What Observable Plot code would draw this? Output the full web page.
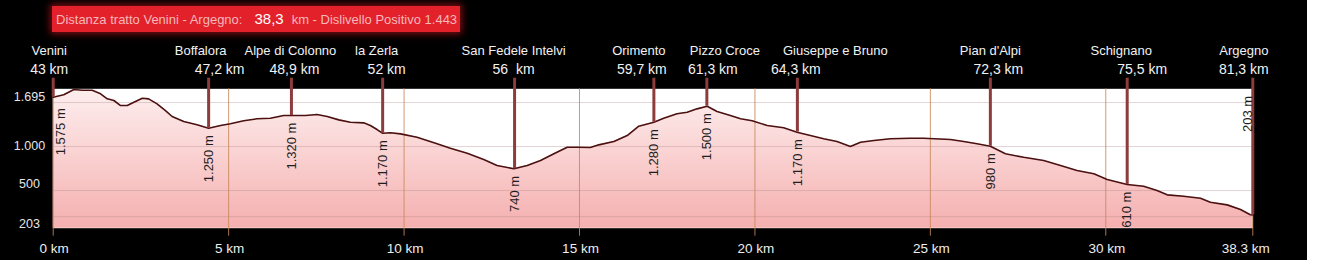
<!DOCTYPE html>
<html>
<head>
<meta charset="utf-8">
<script src="https://cdn.jsdelivr.net/npm/d3@7"></script>
<script src="https://cdn.jsdelivr.net/npm/@observablehq/plot@0.6"></script>
<style>
  html, body { margin: 0; padding: 0; background: #fff; }
  #wrap { position: relative; width: 1307px; height: 260px; background: #000; font-family: "Liberation Sans", Arial, sans-serif; overflow: hidden; }
  #chart { position: absolute; left: 0; top: 0; }
  #title { position: absolute; left: 52px; top: 6px; width: 408px; height: 26px; background: #e2212b;
           box-shadow: 0 0 7px 2px rgba(225, 25, 35, 0.55); color: #f5b8ba; font-size: 13px; line-height: 26px;
           white-space: nowrap; padding-left: 4px; box-sizing: border-box; }
  #title .big { color: #fff; font-size: 15px; margin: 0 8px 0 12px; }
</style>
</head>
<body>
<div id="wrap">
  <div id="chart"></div>
  <div id="title"><span>Distanza tratto Venini - Argegno:</span><span class="big">38,3</span><span>km - Dislivello Positivo 1.443</span></div>
</div>
<script>
// ---------- data ----------
const profileKm = [0, 0.30, 0.59, 0.83, 1.11, 1.35, 1.54, 1.73, 1.92, 2.11, 2.30, 2.54, 2.72, 2.96, 3.20, 3.39, 3.72, 4.10, 4.43,
  4.77, 5.05, 5.43, 5.81, 6.19, 6.57, 6.81, 7.19, 7.52, 7.81, 8.14, 8.47, 8.85, 9.04, 9.23, 9.39, 9.61, 9.90, 10.37, 10.94,
  11.32, 11.80, 12.27, 12.65, 13.13, 13.51, 13.89, 14.27, 14.65, 14.93, 15.31, 15.55, 15.98, 16.36, 16.69, 17.12, 17.40,
  17.78, 18.07, 18.35, 18.64, 18.92, 19.30, 19.59, 19.92, 20.35, 20.82, 21.20, 21.58, 21.96, 22.34, 22.72, 23.01, 23.39,
  23.86, 24.43, 24.81, 25.57, 25.95, 26.33, 26.71, 27.14, 27.66, 28.23, 28.71, 29.18, 29.66, 30.04, 30.61, 31.08, 31.46,
  31.75, 32.22, 32.70, 32.98, 33.46, 33.84, 34.12, 34.19];
const profileElev = [1560, 1588, 1648, 1640, 1640, 1599, 1542, 1523, 1466, 1466, 1503, 1549, 1542, 1485, 1409, 1341, 1284, 1247, 1208,
  1239, 1258, 1292, 1315, 1322, 1352, 1352, 1352, 1364, 1341, 1303, 1276, 1269, 1239, 1193, 1151, 1156, 1144, 1106, 1031,
  981, 924, 852, 784, 747, 784, 841, 917, 992, 992, 989, 1019, 1057, 1125, 1231, 1276, 1322,
  1372, 1390, 1428, 1458, 1398, 1352, 1315, 1292, 1239, 1213, 1163, 1125, 1088, 1057, 1000, 1049, 1068,
  1088, 1094, 1094, 1080, 1057, 1031, 1003, 917, 878, 841, 784, 727, 690, 625, 568, 549, 500,
  451, 435, 412, 367, 337, 284, 224, 222];

const stationNames = ["Venini", "Boffalora", "Alpe di Colonno", "la Zerla", "San Fedele Intelvi", "Orimento",
  "Pizzo Croce", "Giuseppe e Bruno", "Pian d'Alpi", "Schignano", "Argegno"];
const stationKmLabels = ["43 km", "47,2 km", "48,9 km", "52 km", "56  km", "59,7 km", "61,3 km", "64,3 km", "72,3 km", "75,5 km", "81,3 km"];
const stationElevLabels = ["1.575 m", "1.250 m", "1.320 m", "1.170 m", "740 m", "1.280 m", "1.500 m", "1.170 m", "980 m", "610 m", "203 m"];
const stationAt = [0, 4.43, 6.79, 9.39, 13.15, 17.12, 18.63, 21.21, 26.71, 30.61, 34.19];
const stationElev = [1560, 1208, 1352, 1151, 747, 1276, 1458, 1163, 1003, 568, 224];

const xTickAt = [0, 5, 10, 15, 20, 25, 30, 34.19];
const xTickLabels = ["0 km", "5 km", "10 km", "15 km", "20 km", "25 km", "30 km", "38.3 km"];
const yGridAt = [1500, 1000, 500, 203];
const yLabelAt = [1560, 1010, 570, 115];
const yTickLabels = ["1.695", "1.000", "500", "203"];

// ---------- layout / style ----------
const yMin = 72, yMax = 1656;
const nameNudge = [-4, -8, -1, -6, -1, -15, 18, 38, 0, -6, -9];
const kmNudge = [-4, 11, 3, 4, -1, -12, 6, -1.5, 8, 15, -9];
const FONT = "Liberation Sans, Arial, sans-serif";

const profile = profileKm.map((k, i) => ({km: k, elev: profileElev[i]}));
const stations = stationNames.map((n, i) => ({
  name: n, kmLabel: stationKmLabels[i], elevLabel: stationElevLabels[i], at: stationAt[i], elev: stationElev[i]
}));
const inner = stations.slice(1, -1);

function gradientDefs() {
  const ns = "http://www.w3.org/2000/svg";
  const defs = document.createElementNS(ns, "defs");
  const g = document.createElementNS(ns, "linearGradient");
  g.setAttribute("id", "pinkfade");
  g.setAttribute("x1", "0"); g.setAttribute("y1", "0");
  g.setAttribute("x2", "0"); g.setAttribute("y2", "1");
  [["0", "#fdeeee"], ["0.45", "#fad3d3"], ["1", "#f5afaf"]].forEach(([o, c]) => {
    const s = document.createElementNS(ns, "stop");
    s.setAttribute("offset", o); s.setAttribute("stop-color", c);
    g.appendChild(s);
  });
  defs.appendChild(g);
  return defs;
}

const txt = {fontFamily: FONT, lineAnchor: "middle"};

const marks = [
  Plot.frame({fill: "#fff", stroke: null}),
  gradientDefs,
  Plot.areaY(profile, {x: "km", y1: yMin, y2: "elev", fill: "url(#pinkfade)"}),
  Plot.ruleY(yGridAt, {stroke: "#b08888", strokeOpacity: 0.35}),
  Plot.ruleX(xTickAt, {stroke: "#c8875a", strokeOpacity: 0.85, insetBottom: -8}),
  Plot.line(profile, {x: "km", y: "elev", stroke: "#4b1010", strokeWidth: 1.6}),
  Plot.ruleX(stations, {x: "at", y1: yMax, y2: "elev", insetTop: -10.6, stroke: "#8e3b3b", strokeWidth: 3}),
  // elevation labels
  Plot.text(inner, {...txt, x: "at", y: "elev", text: "elevLabel", rotate: -90, textAnchor: "end", dy: 7,
    fontSize: 13, fill: "#1e1e1e"}),
  Plot.text([stations[0]], {...txt, x: "at", y: "elev", text: "elevLabel", rotate: -90, textAnchor: "end", dx: 8, dy: 11,
    fontSize: 13, fill: "#1e1e1e"}),
  Plot.text([stations[stations.length - 1]], {...txt, x: "at", y: yMax, text: "elevLabel", rotate: -90, textAnchor: "end", dx: -5, dy: 7,
    fontSize: 13, fill: "#1e1e1e"}),
  // header labels
  ...stations.map((s, i) => Plot.text([s], {...txt, x: "at", frameAnchor: "top", text: "name", dy: -37.8, dx: nameNudge[i],
    textAnchor: "middle", fontSize: 13, fill: "#f2f2f2"})),
  ...stations.map((s, i) => Plot.text([s], {...txt, x: "at", frameAnchor: "top", text: "kmLabel", dy: -19.3, dx: kmNudge[i],
    textAnchor: "middle", fontSize: 14, fill: "#f2f2f2"})),
  // y labels
  Plot.text(yLabelAt, {...txt, y: d => d, text: (d, i) => yTickLabels[i], frameAnchor: "left", dx: -23.7,
    textAnchor: "middle", fontSize: 12.5, fill: "#e6e6e6"}),
  // x labels
  Plot.text(xTickAt.slice(0, -1), {...txt, x: d => d, text: (d, i) => xTickLabels[i], frameAnchor: "bottom", dy: 20.8, dx: 1,
    textAnchor: "middle", fontSize: 13.5, fill: "#eeeeee"}),
  Plot.text(xTickAt.slice(-1), {...txt, x: d => d, text: () => xTickLabels[xTickLabels.length - 1], frameAnchor: "bottom", dy: 20.8, dx: -7,
    textAnchor: "middle", fontSize: 13.5, fill: "#eeeeee"})
];

const chart = Plot.plot({
  width: 1307, height: 260,
  marginLeft: 52.7, marginRight: 54.7, marginTop: 88.3, marginBottom: 32.3,
  style: {background: "#000", fontFamily: FONT, overflow: "visible"},
  x: {domain: [0, 34.19], axis: null},
  y: {domain: [yMin, yMax], axis: null},
  marks
});
document.getElementById("chart").appendChild(chart);
</script>
</body>
</html>
